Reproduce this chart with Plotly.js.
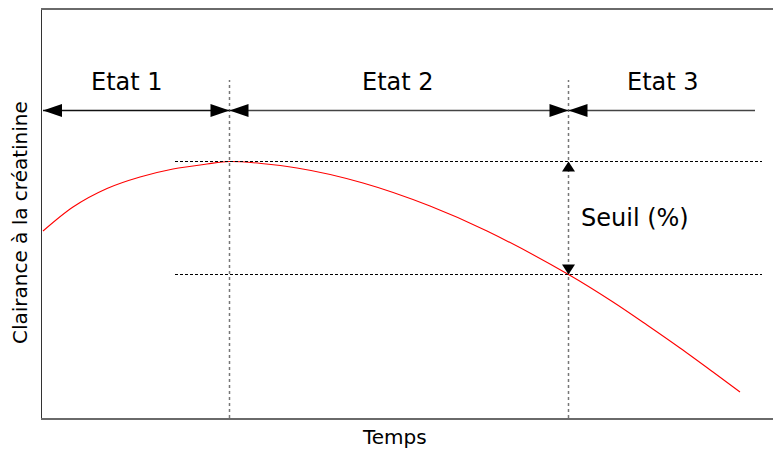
<!DOCTYPE html>
<html>
<head>
<meta charset="utf-8">
<script src="https://cdn.plot.ly/plotly-3.0.1.min.js"></script>
<style>html,body{margin:0;padding:0;background:#fff;}#chart{width:773px;height:453px;}</style>
</head>
<body>
<div id="chart"></div>
<script>
// Curve (time units, clearance units)
const timeX     = [1, 31, 65, 98, 131, 165, 187.5, 255, 321, 388, 445, 526.5, 571, 605, 638, 671, 698];
const clearance = [187, 211, 229.5, 241, 249, 254, 256.5, 250, 235, 212, 187, 143.5, 116, 93, 70, 46, 26];

// States
const stateLabels = ['Etat 1', 'Etat 2', 'Etat 3'];
const stateBounds = [1, 187.5, 526.5, 713];
const stateLabelX = [85, 356, 621];
const arrowLevel = 307.5;
const stateLabelY = 336;
const boundaryTop = 338;

// Threshold
const peakLevel = 256.5;
const thresholdLevel = 143.5;
const refLineX = [133, 720];
const seuilLabel = 'Seuil (%)';

const xTitle = 'Temps';
const yTitle = 'Clairance à la créatinine';

const FONT = 'DejaVu Sans, sans-serif';
const traces = [];

// red curve
traces.push({x: timeX, y: clearance, mode: 'lines', line: {color: '#ff0000', width: 1.1, shape: 'spline', smoothing: 0.9}, hoverinfo: 'skip'});

// dotted vertical boundaries
[stateBounds[1], stateBounds[2]].forEach(b => {
  traces.push({x: [b, b], y: [0, boundaryTop], mode: 'lines', line: {color: '#777', width: 1.5, dash: 'dot'}, hoverinfo: 'skip'});
});

// dashed horizontal reference lines
[peakLevel, thresholdLevel].forEach(l => {
  traces.push({x: refLineX, y: [l, l], mode: 'lines', line: {color: '#000', width: 1, dash: '3px,2px'}, hoverinfo: 'skip'});
});

// arrow lines of the states
for (let i = 0; i < stateLabels.length; i++) {
  traces.push({x: [stateBounds[i], stateBounds[i + 1]], y: [arrowLevel, arrowLevel], mode: 'lines',
    line: {color: i === 0 ? '#111' : '#444', width: 1.3}, hoverinfo: 'skip'});
}

// arrowheads (drawn as paths computed from the state bounds)
const HL = 19, HW = 6.5, VL = 10, VW = 6.5;
const shapes = [];
function head(tipX, tipY, dx, dy, len, half) {
  const bx = tipX - dx * len, by = tipY - dy * len;
  const px = -dy * half, py = dx * half;
  return {type: 'path', xref: 'x', yref: 'y', fillcolor: '#000', line: {width: 0},
    path: `M${tipX},${tipY} L${bx + px},${by + py} L${bx - px},${by - py} Z`};
}
for (let i = 0; i < stateLabels.length; i++) {
  shapes.push(head(stateBounds[i], arrowLevel, -1, 0, HL, HW));
  if (i < stateLabels.length - 1) shapes.push(head(stateBounds[i + 1], arrowLevel, 1, 0, HL, HW));
}
shapes.push(head(stateBounds[2], peakLevel, 0, 1, VL, VW));
shapes.push(head(stateBounds[2], thresholdLevel, 0, -1, VL, VW));

const annotations = stateLabels.map((t, i) => ({
  x: stateLabelX[i], y: stateLabelY, xref: 'x', yref: 'y', text: t, showarrow: false,
  xanchor: 'center', yanchor: 'middle', font: {family: FONT, size: 24, color: '#000'}
}));
annotations.push({x: stateBounds[2] + 10, y: (peakLevel + thresholdLevel) / 2, xref: 'x', yref: 'y', text: seuilLabel,
  showarrow: false, xanchor: 'left', yanchor: 'middle', font: {family: FONT, size: 24, color: '#000'}});
// axis titles (placed as in the reference)
annotations.push({x: (394 - 42) / 731, y: (418 - 437) / 408, xref: 'paper', yref: 'paper', text: xTitle,
  showarrow: false, xanchor: 'center', yanchor: 'middle', font: {family: FONT, size: 20, color: '#000'}});
annotations.push({x: -0.03, y: (418 - 223) / 408, xref: 'paper', yref: 'paper', text: yTitle, textangle: -90,
  showarrow: false, xanchor: 'center', yanchor: 'middle', font: {family: FONT, size: 20, color: '#000'}});

const layout = {
  width: 773, height: 453,
  margin: {l: 42, r: 0, t: 10, b: 35},
  paper_bgcolor: '#fff', plot_bgcolor: '#fff',
  showlegend: false,
  xaxis: {range: [0, 731], showgrid: false, zeroline: false, showticklabels: false, ticks: '',
    showline: true, linecolor: '#6a6a6a', linewidth: 2, mirror: true, fixedrange: true},
  yaxis: {range: [0, 408], showgrid: false, zeroline: false, showticklabels: false, ticks: '',
    showline: true, linecolor: '#333', linewidth: 1.3, fixedrange: true},
  shapes: shapes,
  annotations: annotations,
  font: {family: FONT}
};

Plotly.newPlot('chart', traces, layout, {displayModeBar: false, staticPlot: true});
</script>
</body>
</html>
